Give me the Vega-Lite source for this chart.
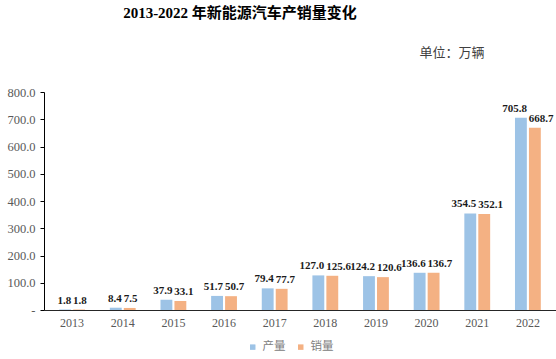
{
  "$schema": "https://vega.github.io/schema/vega-lite/v6.json",
  "width": 512,
  "height": 218,
  "autosize": {"type": "none"},
  "padding": {"left": 44, "top": 92, "right": 0, "bottom": 49},
  "background": "white",
  "config": {"view": {"stroke": null}},
  "title": {
    "text": "2013-2022 年新能源汽车产销量变化",
    "font": "Liberation Serif, Noto Sans CJK SC",
    "fontSize": 15,
    "fontWeight": "bold",
    "color": "#000000",
    "anchor": "middle",
    "frame": "group",
    "dx": -60,
    "offset": 25
  },
  "data": {
    "values": [
      {"year": "2013", "type": "产量", "value": 1.8},
      {"year": "2013", "type": "销量", "value": 1.8},
      {"year": "2014", "type": "产量", "value": 8.4},
      {"year": "2014", "type": "销量", "value": 7.5},
      {"year": "2015", "type": "产量", "value": 37.9},
      {"year": "2015", "type": "销量", "value": 33.1},
      {"year": "2016", "type": "产量", "value": 51.7},
      {"year": "2016", "type": "销量", "value": 50.7},
      {"year": "2017", "type": "产量", "value": 79.4},
      {"year": "2017", "type": "销量", "value": 77.7},
      {"year": "2018", "type": "产量", "value": 127.0},
      {"year": "2018", "type": "销量", "value": 125.6},
      {"year": "2019", "type": "产量", "value": 124.2},
      {"year": "2019", "type": "销量", "value": 120.6},
      {"year": "2020", "type": "产量", "value": 136.6},
      {"year": "2020", "type": "销量", "value": 136.7},
      {"year": "2021", "type": "产量", "value": 354.5},
      {"year": "2021", "type": "销量", "value": 352.1},
      {"year": "2022", "type": "产量", "value": 705.8},
      {"year": "2022", "type": "销量", "value": 668.7}
    ]
  },
  "encoding": {
    "x": {
      "field": "year",
      "type": "nominal",
      "scale": {"paddingInner": 0.49, "paddingOuter": 0.3},
      "axis": {
        "title": null,
        "labelAngle": 0,
        "ticks": false,
        "labelFont": "Liberation Serif",
        "labelFontSize": 12,
        "labelColor": "#595959",
        "labelPadding": 7,
        "domainColor": "#262626",
        "domainWidth": 1
      }
    },
    "xOffset": {
      "field": "type",
      "type": "nominal",
      "scale": {"domain": ["产量", "销量"], "paddingInner": 0.15}
    },
    "y": {
      "field": "value",
      "type": "quantitative",
      "scale": {"domain": [0, 800]},
      "axis": {
        "title": "单位：万辆",
        "titleAngle": 0,
        "titleX": 375,
        "titleY": -40,
        "titleAlign": "left",
        "titleBaseline": "middle",
        "titleFont": "Noto Sans CJK SC",
        "titleFontSize": 13,
        "titleFontWeight": "normal",
        "titleColor": "#404040",
        "values": [0, 100, 200, 300, 400, 500, 600, 700, 800],
        "labelExpr": "datum.value == 0 ? '-   ' : format(datum.value, '.1f')",
        "labelFont": "Liberation Serif",
        "labelFontSize": 12.5,
        "labelColor": "#595959",
        "tickSize": 4,
        "tickColor": "#000000",
        "domainColor": "#000000",
        "labelPadding": 5,
        "grid": false
      }
    }
  },
  "layer": [
    {
      "mark": {"type": "bar"},
      "encoding": {
        "color": {
          "field": "type",
          "type": "nominal",
          "scale": {"domain": ["产量", "销量"], "range": ["#9DC3E6", "#F4B183"]},
          "legend": {
            "title": null,
            "orient": "none",
            "legendX": 203,
            "legendY": 249,
            "direction": "horizontal",
            "symbolType": "square",
            "symbolSize": 30,
            "symbolStrokeWidth": 0,
            "labelFont": "Noto Sans CJK SC",
            "labelFontSize": 11.5,
            "labelColor": "#808080",
            "columnPadding": 9,
            "labelOffset": 4
          }
        }
      }
    },
    {
      "transform": [{"filter": "datum.type == '产量'"}],
      "mark": {
        "type": "text",
        "baseline": "bottom",
        "align": "right",
        "dx": 6,
        "dy": -4,
        "font": "Liberation Serif",
        "fontWeight": "bold",
        "fontSize": 11,
        "color": "#1a1a1a"
      },
      "encoding": {"text": {"field": "value", "type": "quantitative", "format": ".1f"}}
    },
    {
      "transform": [{"filter": "datum.type == '销量'"}],
      "mark": {
        "type": "text",
        "baseline": "bottom",
        "align": "left",
        "dx": -6,
        "dy": -4,
        "font": "Liberation Serif",
        "fontWeight": "bold",
        "fontSize": 11,
        "color": "#1a1a1a"
      },
      "encoding": {"text": {"field": "value", "type": "quantitative", "format": ".1f"}}
    }
  ]
}
